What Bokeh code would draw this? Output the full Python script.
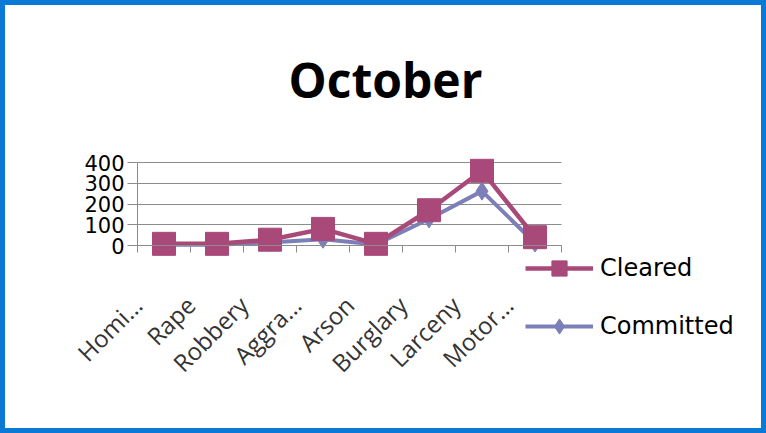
import math
from bokeh.plotting import figure
from bokeh.layouts import column
from bokeh.models import FixedTicker, Legend, LegendItem, Range1d
from bokeh.embed import file_html
from bokeh.resources import INLINE

categories = ["Homi…", "Rape", "Robbery", "Aggra…", "Arson", "Burglary", "Larceny", "Motor…"]
cleared = [8, 8, 28, 80, 8, 170, 360, 40]
committed = [4, 4, 15, 30, 5, 128, 262, 12]
y_ticks = [0, 100, 200, 300, 400]

# layout constants (pixels, figure coordinates)
W, H = 756, 423
LEFT, TOP, RIGHT, BOTTOM = 20, 130, 16, 10
AX_X0, AX_X1 = 132, 556           # pixel x of category axis start / end
AX_Y0, AX_Y1 = 240, 157           # pixel y of value 0 / top tick
FRAME_L, FRAME_R = LEFT, W - RIGHT
FRAME_T, FRAME_B = TOP, H - BOTTOM
n = len(categories)
y_max = y_ticks[-1]
ux = n / (AX_X1 - AX_X0)
uy = y_max / (AX_Y0 - AX_Y1)
x_start = (FRAME_L - AX_X0) * ux
x_end = (FRAME_R - AX_X0) * ux
y_start = (AX_Y0 - FRAME_B) * uy
y_end = (AX_Y0 - FRAME_T) * uy

xs = [i + 0.5 for i in range(n)]
label_pos = [x - 0.5 for x in xs]
FONT = "Open Sans"
MAG = "#A8497A"
BLU = "#7C7FB8"
GC = "#8c8c8c"

p = figure(width=W, height=H, output_backend="svg", toolbar_location=None,
           x_range=Range1d(x_start, x_end), y_range=Range1d(y_start, y_end),
           min_border_left=LEFT, min_border_right=RIGHT,
           min_border_top=TOP, min_border_bottom=BOTTOM)
p.outline_line_color = None

p.title.text = "October"
p.title.text_font = FONT
p.title.text_font_size = "48px"
p.title.text_font_style = "bold"
p.title.align = "left"
p.title.text_color = "#000000"
p.title.standoff = 48
p.title.offset = 283 - FRAME_L

p.xgrid.visible = False
yg = p.ygrid[0]
yg.grid_line_color = GC
yg.ticker = FixedTicker(ticks=y_ticks)
if hasattr(yg, "cross_bounds"):
    yg.cross_bounds = (0, n)
else:
    yg.visible = False
    p.segment(x0=[0] * len(y_ticks), x1=[n] * len(y_ticks), y0=y_ticks, y1=y_ticks,
              line_color=GC, line_width=1)

ya = p.yaxis[0]
ya.fixed_location = 0
ya.ticker = FixedTicker(ticks=y_ticks)
ya.bounds = (0, y_max)
ya.axis_line_color = GC
ya.major_tick_line_color = GC
ya.major_tick_out = 10
ya.major_tick_in = 0
ya.minor_tick_line_color = None
ya.major_label_text_font = "DejaVu Sans"
ya.major_label_text_font_size = "21px"
ya.major_label_text_color = "#000000"
ya.major_label_standoff = 3

xa = p.xaxis[0]
xa.fixed_location = 0
xa.bounds = (0, n)
xa.ticker = FixedTicker(ticks=label_pos, minor_ticks=list(range(n + 1)))
xa.major_label_overrides = {x: c for x, c in zip(label_pos, categories)}
xa.axis_line_color = GC
xa.major_tick_line_color = None
xa.minor_tick_line_color = GC
xa.minor_tick_out = 7
xa.minor_tick_in = 0
xa.major_label_orientation = math.pi / 4
xa.major_label_text_font = FONT
xa.major_label_text_font_size = "24px"
xa.major_label_text_color = "#333333"
xa.major_label_standoff = 48

bl = p.line(xs, committed, line_color=BLU, line_width=4)
bm = p.scatter(xs, committed, marker="diamond", size=18, fill_color=BLU, line_color=BLU)
ml = p.line(xs, cleared, line_color=MAG, line_width=4.5)
mm = p.scatter(xs, cleared, marker="square", size=23, fill_color=MAG, line_color=MAG)

legend = Legend(items=[LegendItem(label="Cleared", renderers=[ml, mm]),
                       LegendItem(label="Committed", renderers=[bl, bm])],
                location=(520 - FRAME_L, 73), padding=0, margin=0, spacing=20,
                glyph_width=68, glyph_height=38, label_standoff=7,
                label_text_font="DejaVu Sans", label_text_font_size="24px",
                label_text_color="#000000",
                border_line_color=None, background_fill_alpha=0)
p.add_layout(legend, "center")

layout = column(p, stylesheets=[":host { border: 5px solid #0a7ad6; }"])

open("out.html", "w").write(file_html(layout, INLINE))
